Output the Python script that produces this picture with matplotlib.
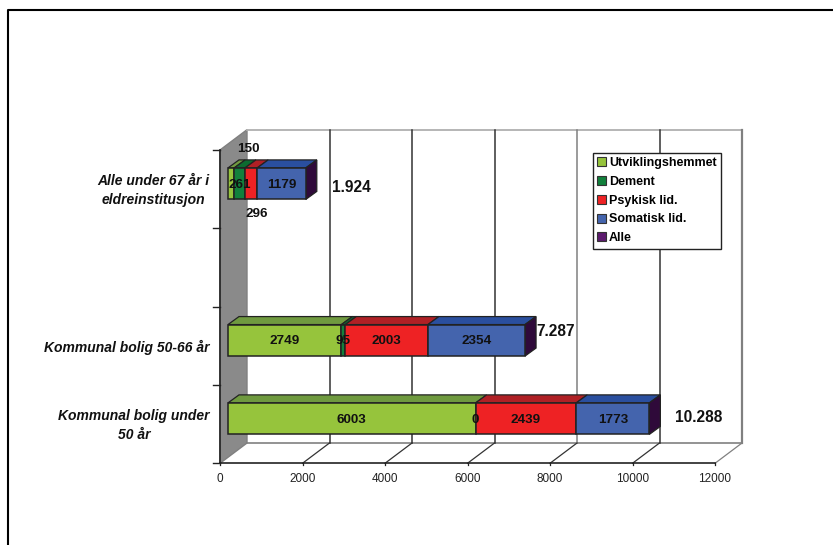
import matplotlib
matplotlib.use("Agg")
import matplotlib.pyplot as plt
from matplotlib.patches import Polygon, Rectangle
from matplotlib.lines import Line2D

plt.rcParams["font.family"] = ["Liberation Sans", "DejaVu Sans"]

categories = ["Kommunal bolig under\n50 år", "Kommunal bolig 50-66 år", "", "Alle under 67 år i\neldreinstitusjon"]
series_names = ["Utviklingshemmet", "Dement", "Psykisk lid.", "Somatisk lid.", "Alle"]
utvikling = [6003, 2749, 0, 150]
dement = [0, 95, 0, 261]
psykisk = [2439, 2003, 0, 296]
somatisk = [1773, 2354, 0, 1179]
totals = ["10.288", "7.287", "", "1.924"]
x_ticks = [0, 2000, 4000, 6000, 8000, 10000, 12000]

face_colors = ["#96c43c", "#12803c", "#ee2224", "#4464ad", "#5c1a6e"]
top_colors = ["#6f9a3f", "#0d6b30", "#b02025", "#2a4f9f"]
side_color = "#2f0a3a"

W, H = 833, 545
fig = plt.figure(figsize=(W / 100, H / 100), dpi=100)
ax = fig.add_axes([220 / W, 1 - 463.3 / H, 495 / W, 313.3 / H])
ax.set_xlim(0, 12000)
ax.set_ylim(-0.5, 3.5)
ax.axis("off")

# pixels to data units, everything 3d below is just an offset
sx = 12000 / 495
sy = 4 / 313.3
wall_dx, wall_dy = 27 * sx, 20.3 * sy
bar_x0 = 8 * sx
bar_dy = 5.5 * sy
depth_dx, depth_dy = 11 * sx, 8 * sy
bar_h = 31.5 * sy


def quad(pts, **kw):
    ax.add_patch(Polygon(pts, closed=True, clip_on=False, **kw))


# side wall, floor and grid
y0, y1 = -0.5, 3.5
quad([(0, y0), (wall_dx, y0 + wall_dy), (wall_dx, y1 + wall_dy), (0, y1)],
     facecolor="#8a8a8a", edgecolor="#808080", linewidth=1, zorder=1)
ax.plot([wall_dx, 12000 + wall_dx], [y1 + wall_dy] * 2, color="#b0b0b0", lw=1.3, zorder=1, clip_on=False)
ax.plot([wall_dx, 12000 + wall_dx], [y0 + wall_dy] * 2, color="#808080", lw=1.2, zorder=1, clip_on=False)
for t in x_ticks[1:]:
    col = "#808080" if t in (8000, 12000) else "#333333"
    lw = 1.6 if t == 12000 else 1.1
    ax.plot([t + wall_dx] * 2, [y0 + wall_dy, y1 + wall_dy], color=col, lw=lw, zorder=1, clip_on=False)
    ax.plot([t, t + wall_dx], [y0, y0 + wall_dy], color="#333333" if t < 12000 else "#808080", lw=0.9, zorder=1, clip_on=False)
ax.plot([0, 12000], [y0, y0], color="#222222", lw=1.2, zorder=2, clip_on=False)
ax.plot([0, 0], [y0, y1], color="#222222", lw=1.2, zorder=2, clip_on=False)
for t in x_ticks:
    ax.plot([t, t], [y0, y0 - 2 * sy], color="#222222", lw=0.9, zorder=2, clip_on=False)
    ax.text(t, y0 - 16 * sy, str(t), ha="center", va="center", fontsize=8.5, color="#222222")
for i in range(5):
    ax.plot([-7 * sx, 0], [y0 + i, y0 + i], color="#222222", lw=1, zorder=2, clip_on=False)

# stacked bars
stack = [utvikling, dement, psykisk, somatisk]
for c in range(len(categories)):
    if totals[c] == "":
        continue
    left = bar_x0
    bottom = c - bar_h / 2 + bar_dy
    top = bottom + bar_h
    for s, vals in enumerate(stack):
        v = vals[c]
        if v == 0:
            continue
        quad([(left, top), (left + v, top), (left + v + depth_dx, top + depth_dy), (left + depth_dx, top + depth_dy)],
             facecolor=top_colors[s], edgecolor="#222222", linewidth=0.9, zorder=3)
        ax.add_patch(Rectangle((left, bottom), v, bar_h, facecolor=face_colors[s],
                               edgecolor="#222222", linewidth=1.1, zorder=4, clip_on=False))
        left += v
    quad([(left, bottom), (left + depth_dx, bottom + depth_dy), (left + depth_dx, top + depth_dy), (left, top)],
         facecolor=side_color, edgecolor="#222222", linewidth=0.9, zorder=3)

# value labels, a few were dragged by hand in the original (offsets in px)
nudge = {(0, 3): (17, 36), (2, 3): (5.5, -29)}
for c in range(len(categories)):
    if totals[c] == "":
        continue
    left = bar_x0
    for s, vals in enumerate(stack):
        v = vals[c]
        if v != 0 or (s == 1 and c == 0):
            ox, oy = nudge.get((s, c), (0, 0))
            ax.text(left + v / 2 + ox * sx, c + bar_dy - 1 * sy + oy * sy, str(v),
                    ha="center", va="center", fontsize=9.7, fontweight="bold", color="#111111", zorder=6)
        left += v

total_x = [699, 556, 0, 351]
total_y = [417, 332, 0, 187]
for c, lab in enumerate(totals):
    if lab:
        ax.text((total_x[c] - 220) * sx, y0 + (463.3 - total_y[c]) * sy, lab, ha="center", va="center",
                fontsize=11.2, fontweight="bold", color="#111111", zorder=6)

# category labels
label_x = [134, 127, 0, 153.5]
for c, lab in enumerate(categories):
    if lab:
        ax.text((label_x[c] - 220) * sx, c - 1.5 * sy, lab, ha="center", va="center", fontsize=10,
                fontweight="bold", fontstyle="italic", color="#111111", linespacing=1.4)

handles = [Rectangle((0, 0), 1, 1, facecolor=col, edgecolor="#333333", linewidth=0.8) for col in face_colors]
leg = fig.legend(handles, series_names, loc="upper left", bbox_to_anchor=(593 / W, 1 - 153 / H),
                 bbox_transform=fig.transFigure, frameon=True, fancybox=False,
                 edgecolor="#222222", facecolor="white", framealpha=1, borderpad=0.34, labelspacing=0.54,
                 handlelength=0.72, handleheight=0.72, handletextpad=0.2, borderaxespad=0,
                 prop={"weight": "bold", "size": 9})
leg.get_frame().set_linewidth(1)

# outer frame of the page, only left and top are visible
fig.add_artist(Line2D([7.5 / W, 7.5 / W, 1], [0, 1 - 10 / H, 1 - 10 / H], color="black", lw=1.5))

fig.savefig("out.png", dpi=100)
plt.close(fig)
